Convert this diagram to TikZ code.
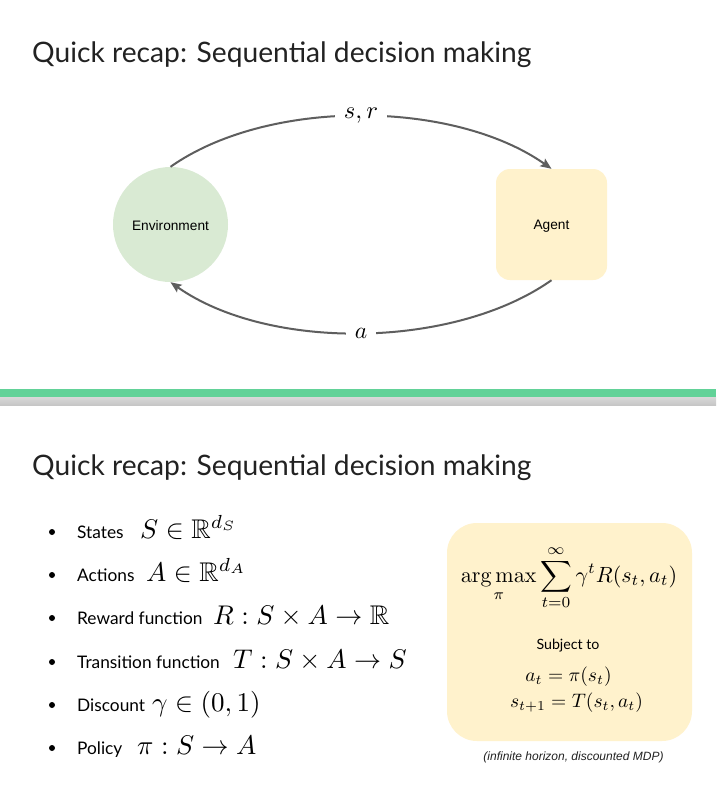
\documentclass[tikz,border=0pt]{standalone}
\usepackage{amsmath,amssymb}
\usepackage{graphicx}
\usepackage[no-math]{fontspec}
\setmainfont{Lato}
\newfontfamily\arialfont{Liberation Sans}
\usetikzlibrary{arrows.meta}
\definecolor{envgreen}{HTML}{D9EAD3}
\definecolor{agentyellow}{HTML}{FFF2CC}
\definecolor{arrowgray}{HTML}{5E5E5E}
\definecolor{bargreen}{HTML}{62D298}
\definecolor{shadetop}{HTML}{D8D8D8}
\definecolor{shadebot}{HTML}{C6C6C6}
\definecolor{titlecol}{HTML}{222222}
\newcommand\mathat[2]{\scalebox{#1}{\fontsize{10}{12}\selectfont$#2$}}
\newcommand\dmathat[2]{\scalebox{#1}{\fontsize{10}{12}\selectfont$\displaystyle #2$}}
\tikzset{
  title/.style={anchor=base west, inner sep=0pt, text=titlecol, font=\fontsize{28.2}{32}\selectfont},
  diaglabel/.style={font=\arialfont\fontsize{13.7}{16}\selectfont, text=black, inner sep=0pt},
  flow/.style={draw=arrowgray, line width=2pt, -{Stealth[length=11pt,width=9pt,inset=2pt]}},
  arclabel/.style={fill=white, inner ysep=3pt, inner xsep=9pt},
  bulletdot/.style={circle, fill=black, minimum size=6pt, inner sep=0pt},
  item/.style={anchor=base west, inner sep=0pt, font=\fontsize{17.3}{20}\selectfont},
  itemmath/.style={anchor=base west, inner sep=0pt},
}
\begin{document}
\begin{tikzpicture}[x=1pt,y=-1pt]
\useasboundingbox[fill=white] (0,0) rectangle (716,801);

% top slide
\node[title] (t1) at (32,62) {Quick recap: Sequential decision making};
\node[circle, fill=envgreen, minimum size=115pt, inner sep=0pt] (env) at (170.5,224.5) {};
\node[rectangle, rounded corners=14pt, fill=agentyellow, minimum width=111pt, minimum height=111pt] (agent) at (551.5,224.5) {};
\node[diaglabel] (envtext) at (170.5,226) {Environment};
\node[diaglabel] (agenttext) at (551.5,226.5) {Agent};
\draw[flow] (env.north) .. controls +(98,-69) and +(-98,-69) .. node[arclabel] (sr) {\mathat{2.45}{s,r}} (agent.north);
\draw[flow] (agent.south) .. controls +(-98,69) and +(98,69) .. node[arclabel] (al) {\mathat{2.35}{a}} (env.south);

% separator
\fill[bargreen] (0,389) rectangle (716,397);
\shade[top color=shadetop, bottom color=shadebot] (0,397) rectangle (716,405);

% bottom slide
\node[title] (t2) at (32,475) {Quick recap: Sequential decision making};

\node[bulletdot] (b1) at (52,532) {};
\node[bulletdot] (b2) at (52,575) {};
\node[bulletdot] (b3) at (52,618) {};
\node[bulletdot] (b4) at (52,662) {};
\node[bulletdot] (b5) at (52,705) {};
\node[bulletdot] (b6) at (52,748) {};

\node[item] (i1) at (77,538) {States};
\node[item] (i2) at (77,581) {Actions};
\node[item] (i3) at (77,624) {Reward function};
\node[item] (i4) at (77,668) {Transition function};
\node[item] (i5) at (77,711) {Discount};
\node[item] (i6) at (77,754) {Policy};

\node[itemmath] (m1) at (140,538) {\mathat{2.7}{S\in\mathbb{R}^{d_S}}};
\node[itemmath] (m2) at (146,581) {\mathat{2.7}{A\in\mathbb{R}^{d_A}}};
\node[itemmath] (m3) at (213,624) {\mathat{2.7}{R:S\times A\rightarrow\mathbb{R}}};
\node[itemmath] (m4) at (233,668) {\mathat{2.7}{T:S\times A\rightarrow S}};
\node[itemmath] (m5) at (152,711) {\mathat{2.7}{\gamma\in(0,1)}};
\node[itemmath] (m6) at (137,754) {\mathat{2.7}{\pi:S\rightarrow A}};

\node[fill=agentyellow, rounded corners=30pt, minimum width=245pt, minimum height=218pt, inner sep=0pt] (box) at (569.5,632) {};
\node[inner sep=0pt] (obj) at (569,578) {\dmathat{2.2}{\operatorname*{arg\,max}_{\pi}\sum_{t=0}^{\infty}\gamma^t R(s_t,a_t)}};
\node[font=\fontsize{14.2}{17}\selectfont, inner sep=0pt] (subj) at (568,646) {Subject to};
\node[inner sep=0pt] (c1) at (568.5,677) {\mathat{1.95}{a_t=\pi(s_t)}};
\node[inner sep=0pt] (c2) at (576.5,703) {\mathat{1.95}{s_{t+1}=T(s_t,a_t)}};
\node[font=\arialfont\itshape\fontsize{12}{14}\selectfont, text=titlecol, inner sep=0pt] (cap) at (573.5,757) {(infinite horizon, discounted MDP)};
\end{tikzpicture}
\end{document}
